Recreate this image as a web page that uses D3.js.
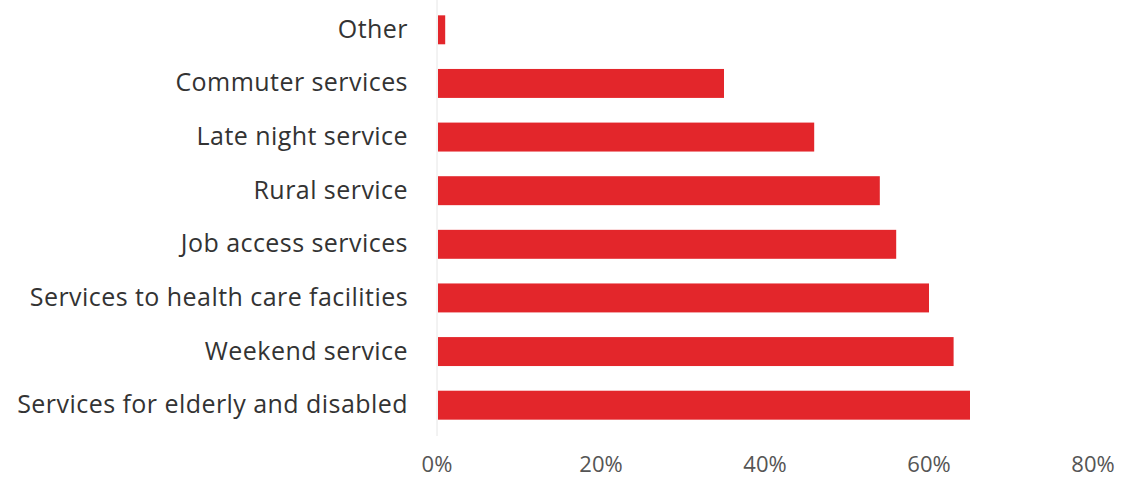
<!DOCTYPE html>
<html><head><meta charset="utf-8">
<script src="https://cdn.jsdelivr.net/npm/d3@7"></script>
<style>body{margin:0;background:#fff}svg{display:block}</style>
</head><body>
<svg id="c" width="1127" height="480"></svg>
<script>
const categories = ["Other","Commuter services","Late night service","Rural service","Job access services","Services to health care facilities","Weekend service","Services for elderly and disabled"];
const values = [1, 35, 46, 54, 56, 60, 63, 65];
const tickValues = [0, 20, 40, 60, 80];

const svg = d3.select("#c");
const x = d3.scaleLinear().domain([0, 80]).range([437, 1093]);
const y = d3.scaleBand().domain(categories).range([3, 432]).paddingInner(0.46).paddingOuter(0.23);

svg.append("line").attr("x1", x(0)).attr("x2", x(0)).attr("y1", 0).attr("y2", 436)
  .attr("stroke", "#e6e6e6").attr("stroke-width", 1);

svg.selectAll("rect.bar").data(categories).join("rect").attr("class","bar")
  .attr("x", x(0)+1).attr("y", d => y(d))
  .attr("width", (d,i) => x(values[i]) - x(0) - 1)
  .attr("height", y.bandwidth())
  .attr("fill", "#e3262b");

svg.selectAll("text.cat").data(categories).join("text").attr("class","cat")
  .attr("x", 408).attr("y", d => y(d) + y.bandwidth()/2)
  .attr("dy", "0.32em").attr("text-anchor", "end")
  .attr("font-family", "'Open Sans', sans-serif").attr("font-size", 25)
  .attr("letter-spacing", "0.45px")
  .attr("fill", "#333").text(d => d);

svg.selectAll("text.tick").data(tickValues).join("text").attr("class","tick")
  .attr("x", d => x(d)).attr("y", 464).attr("dy", "0.35em")
  .attr("text-anchor", "middle")
  .attr("font-family", "'Open Sans', sans-serif").attr("font-size", 22)
  .attr("fill", "#555").text(d => d + "%");
</script>
</body></html>
